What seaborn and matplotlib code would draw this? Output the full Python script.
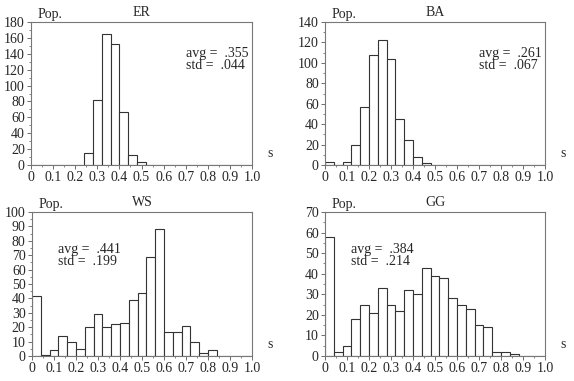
import numpy as np
import pandas as pd
import matplotlib
matplotlib.use('Agg')
import matplotlib.pyplot as plt
from matplotlib.ticker import MultipleLocator
import seaborn as sns

# histogram counts, bins of width 0.04 starting at 0
er_counts = [0, 0, 0, 0, 0, 0, 15, 82, 165, 152, 67, 13, 4]
ba_counts = [3, 0, 3, 20, 57, 108, 122, 104, 45, 24, 8, 2]
ws_counts = [42, 1, 4, 14, 10, 5, 20, 29, 20, 22, 23, 39, 44, 69, 88, 17, 17, 21, 10, 2, 4]
gg_counts = [58, 2, 5, 18, 25, 21, 33, 25, 22, 32, 30, 43, 39, 38, 28, 25, 23, 15, 14, 2, 2, 1]

names = ['ER', 'BA', 'WS', 'GG']
avgs = ['.355', '.261', '.441', '.384']
stds = ['.044', '.067', '.199', '.214']
ymax = [180, 140, 100, 70]
ystep = [20, 20, 10, 10]
text_pos = [(0.70, 0.74), (0.70, 0.74), (0.12, 0.70), (0.12, 0.70)]

bin_w = 0.04
edges = [round(k * bin_w, 2) for k in range(26)]

sns.set_style('white')
plt.rcParams['font.family'] = ['Liberation Serif', 'DejaVu Serif']
plt.rcParams['font.size'] = 9.5

fig = plt.figure(figsize=(5.74, 3.81), dpi=100)
W, H = 574, 381
boxes = [(31, 22, 252, 165), (325, 22, 545, 165),
         (32, 212, 252, 356), (325, 212, 545, 356)]

for i, counts in enumerate([er_counts, ba_counts, ws_counts, gg_counts]):
    x0, y0, x1, y1 = boxes[i]
    ax = fig.add_axes([x0 / W, 1 - y1 / H, (x1 - x0) / W, (y1 - y0) / H])
    df = pd.DataFrame({'s': [e + bin_w / 2 for e in edges[:len(counts)]],
                       'n': counts})
    sns.histplot(data=df, x='s', weights='n', bins=edges, ax=ax,
                 color='white', edgecolor='#333333', linewidth=0.8, alpha=1)
    ax.set_xlim(0, 1.0)
    ax.set_ylim(0, ymax[i])
    ax.set_xticks(np.arange(0, 1.01, 0.1))
    ax.set_xticklabels(['0'] + ['%.1f' % v for v in np.arange(0.1, 1.01, 0.1)])
    ax.xaxis.set_minor_locator(MultipleLocator(0.05))
    ax.yaxis.set_major_locator(MultipleLocator(ystep[i]))
    ax.yaxis.set_minor_locator(MultipleLocator(ystep[i] / 2))
    ax.tick_params(which='major', direction='out', length=3, width=0.6,
                   color='#555555', pad=1.5, labelsize=10)
    ax.tick_params(which='minor', direction='out', length=1.5, width=0.5,
                   color='#555555')
    ax.tick_params(bottom=True, left=True, which='both')
    ax.set_xlabel('')
    ax.set_ylabel('')
    for sp in ax.spines.values():
        sp.set_color('#777777')
        sp.set_linewidth(0.8)
    ax.set_title(names[i], fontsize=10, pad=4)
    ax.text(0.03, 1.01, 'Pop.', transform=ax.transAxes, fontsize=10,
            ha='left', va='bottom')
    ax.text(1.07, 0.08, 's', transform=ax.transAxes, fontsize=10,
            ha='left', va='center')
    tx, ty = text_pos[i]
    ax.text(tx, ty, 'avg =  ' + avgs[i] + '\nstd =  ' + stds[i],
            transform=ax.transAxes, fontsize=10, ha='left', va='center',
            linespacing=0.9)

fig.savefig('out.png', dpi=100)
